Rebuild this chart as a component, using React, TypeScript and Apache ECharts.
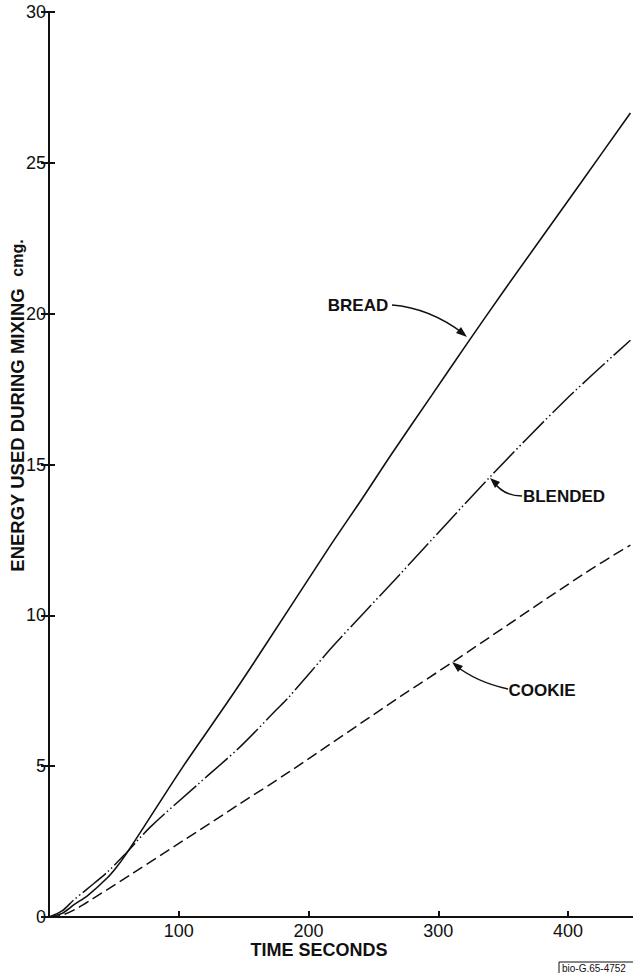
import React, { useEffect, useRef } from "react";
import * as echarts from "echarts";

const breadX = [0, 10, 19, 30, 45, 52, 59, 73, 103, 138, 162, 216, 241, 264, 295, 322, 352, 410, 448];
const breadY = [0, 0.12, 0.4, 0.72, 1.3, 1.65, 2.06, 2.98, 4.97, 7.15, 8.7, 12.26, 13.85, 15.35, 17.3, 19.0, 20.85, 24.35, 26.65];

const blendedX = [0, 10, 19, 30, 45, 59, 78, 114, 147, 175, 184, 221, 270, 339, 398, 448];
const blendedY = [0, 0.2, 0.56, 0.95, 1.49, 2.1, 2.98, 4.37, 5.63, 6.86, 7.25, 9.08, 11.34, 14.55, 17.14, 19.12];

const cookieX = [0, 10, 20, 32, 65, 103, 147, 185, 270, 310, 413, 448];
const cookieY = [0, 0.06, 0.25, 0.56, 1.46, 2.52, 3.75, 4.81, 7.29, 8.42, 11.4, 12.33];

const xTicks = [0, 100, 200, 300, 400];
const yTicks = [0, 5, 10, 15, 20, 25, 30];

const FONT = "'Liberation Sans', Arial, sans-serif";

function pairs(xs: number[], ys: number[]) {
  return xs.map((x, i) => [x, ys[i]]);
}

export default function App() {
  const ref = useRef<HTMLDivElement>(null);
  useEffect(() => {
    if (!ref.current) return;
    const chart = echarts.init(ref.current, null, { renderer: "svg" });
    const axisLine = { show: true, lineStyle: { color: "#111", width: 2 } };
    chart.setOption({
      animation: false,
      backgroundColor: "#ffffff",
      grid: { left: 49, right: -2, top: 12, bottom: 56, containLabel: false },
      xAxis: [
        {
          type: "value",
          min: 0,
          max: 450,
          interval: 100,
          axisLine,
          axisTick: { show: true, inside: true, length: 6, lineStyle: { color: "#111", width: 2 } },
          axisLabel: {
            showMinLabel: false,
            showMaxLabel: false,
            margin: 5,
            color: "#111",
            fontSize: 18,
            fontFamily: FONT,
            formatter: (v: number) => (xTicks.includes(v) ? String(v) : ""),
          },
          splitLine: { show: false },
        },
        {
          type: "value",
          position: "top",
          min: 0,
          max: 450,
          axisLine,
          axisTick: { show: false },
          axisLabel: { show: false },
          splitLine: { show: false },
        },
      ],
      yAxis: [
        {
          type: "value",
          min: 0,
          max: 30,
          interval: 5,
          axisLine,
          axisTick: { show: true, inside: true, length: 6, lineStyle: { color: "#111", width: 2 } },
          axisLabel: {
            margin: 3,
            color: "#111",
            fontSize: 18,
            fontFamily: FONT,
            formatter: (v: number) => (yTicks.includes(v) ? String(v) : ""),
          },
          splitLine: { show: false },
        },
        {
          type: "value",
          position: "right",
          min: 0,
          max: 30,
          interval: 5,
          axisLine,
          axisTick: { show: true, inside: true, length: 8, lineStyle: { color: "#111", width: 2 } },
          axisLabel: { show: false },
          splitLine: { show: false },
        },
      ],
      series: [
        {
          name: "BREAD",
          type: "line",
          data: pairs(breadX, breadY),
          smooth: 0.3,
          showSymbol: false,
          lineStyle: { color: "#111", width: 1.6, type: "solid" },
        },
        {
          name: "BLENDED",
          type: "line",
          data: pairs(blendedX, blendedY),
          smooth: 0.3,
          showSymbol: false,
          lineStyle: { color: "#111", width: 1.5, type: [30, 3, 1.5, 3, 1.5, 3] },
        },
        {
          name: "COOKIE",
          type: "line",
          data: pairs(cookieX, cookieY),
          smooth: 0.3,
          showSymbol: false,
          lineStyle: { color: "#111", width: 1.5, type: [11, 5] },
        },
      ],
      graphic: [
        {
          type: "text",
          x: 17,
          y: 430,
          rotation: Math.PI / 2,
          style: {
            text: "ENERGY USED DURING MIXING",
            fill: "#111",
            font: `bold 18.5px ${FONT}`,
            align: "center",
            verticalAlign: "middle",
          },
        },
        {
          type: "text",
          x: 17,
          y: 258,
          rotation: Math.PI / 2,
          style: {
            text: "cmg.",
            fill: "#111",
            font: `bold 16px ${FONT}`,
            align: "center",
            verticalAlign: "middle",
          },
        },
        {
          type: "text",
          x: 319,
          y: 950,
          style: {
            text: "TIME SECONDS",
            fill: "#111",
            font: `bold 18px ${FONT}`,
            align: "center",
            verticalAlign: "middle",
          },
        },
        {
          type: "text",
          x: 358,
          y: 305,
          style: { text: "BREAD", fill: "#111", font: `bold 17px ${FONT}`, align: "center", verticalAlign: "middle" },
        },
        {
          type: "bezierCurve",
          shape: { x1: 392, y1: 305, x2: 464, y2: 334, cpx1: 430, cpy1: 308 },
          style: { stroke: "#111", lineWidth: 1.5, fill: "none" },
        },
        {
          type: "polygon",
          shape: { points: [[467, 337], [456, 333], [461, 327]] },
          style: { fill: "#111" },
        },
        {
          type: "text",
          x: 564,
          y: 496,
          style: { text: "BLENDED", fill: "#111", font: `bold 17px ${FONT}`, align: "center", verticalAlign: "middle" },
        },
        {
          type: "bezierCurve",
          shape: { x1: 522, y1: 496, x2: 493, y2: 481, cpx1: 503, cpy1: 496 },
          style: { stroke: "#111", lineWidth: 1.5, fill: "none" },
        },
        {
          type: "polygon",
          shape: { points: [[490, 478], [500, 482], [495, 488]] },
          style: { fill: "#111" },
        },
        {
          type: "text",
          x: 542,
          y: 690,
          style: { text: "COOKIE", fill: "#111", font: `bold 17px ${FONT}`, align: "center", verticalAlign: "middle" },
        },
        {
          type: "bezierCurve",
          shape: { x1: 508, y1: 689, x2: 455, y2: 665, cpx1: 476, cpy1: 682 },
          style: { stroke: "#111", lineWidth: 1.5, fill: "none" },
        },
        {
          type: "polygon",
          shape: { points: [[452, 662], [463, 666], [458, 672]] },
          style: { fill: "#111" },
        },
        {
          type: "line",
          shape: { x1: 559, y1: 962, x2: 633, y2: 962 },
          style: { stroke: "#111", lineWidth: 1 },
        },
        {
          type: "line",
          shape: { x1: 559, y1: 962, x2: 559, y2: 973 },
          style: { stroke: "#111", lineWidth: 1 },
        },
        {
          type: "text",
          x: 562,
          y: 968,
          style: { text: "bio-G.65-4752", fill: "#111", font: `10px ${FONT}`, align: "left", verticalAlign: "middle" },
        },
      ],
    });
    return () => chart.dispose();
  }, []);
  return (
    <div
      ref={ref}
      style={{ position: "fixed", left: 0, top: 0, width: 633, height: 973, background: "#fff" }}
    />
  );
}
